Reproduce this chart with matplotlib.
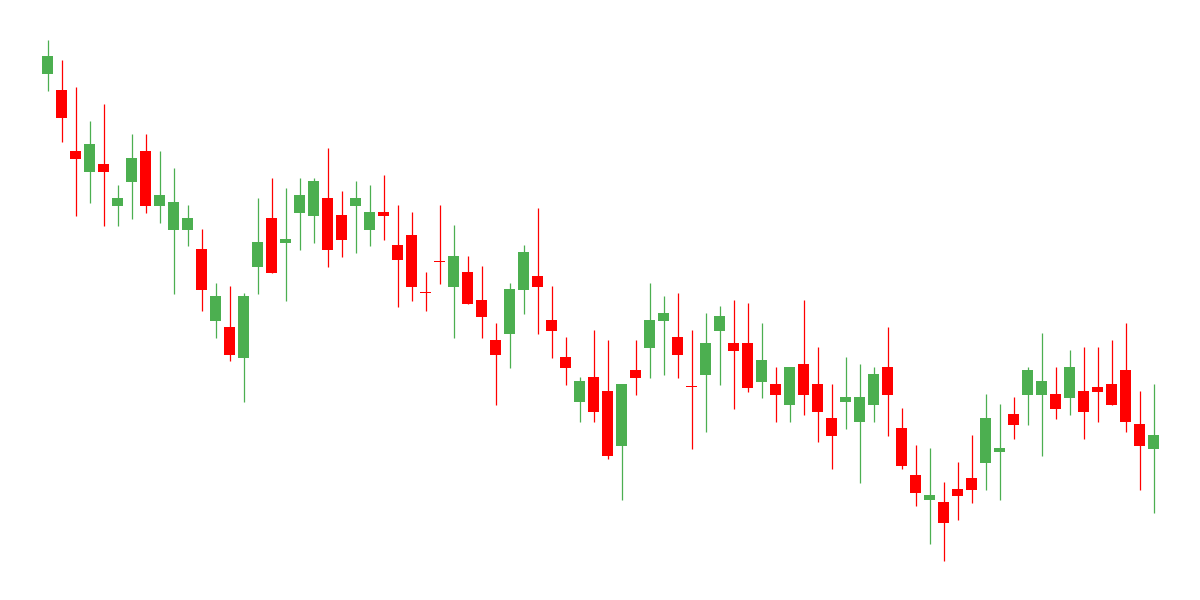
import numpy as np
import matplotlib
matplotlib.use("Agg")
import matplotlib.pyplot as plt

open_ = [526.3, 510, 449, 428.3, 436, 394.3, 418.3, 449, 394.3, 370.3,
         370.3, 351, 279.3, 273, 242.3, 333.3, 382, 357.3, 387.3, 384.3,
         402, 385, 394.3, 370.3, 388, 355, 365, 307, 338, 313.3,
         328, 300, 260, 266.3, 310.3, 324, 280, 243, 198.3, 223,
         209, 154.3, 230, 252.3, 279.3, 263, 213, 225.3, 269.3, 257,
         257, 218.3, 216, 195.3, 236, 216, 182, 198.3, 178.3, 195.3,
         233, 172, 125, 100.3, 98, 111, 122, 137.3, 148.3, 186,
         205.3, 205.3, 206, 202.3, 209, 213, 216, 230, 176, 151.3]
close = [544, 482.3, 441.3, 456, 428.3, 402, 442, 394.3, 405, 398,
         382, 310.3, 304, 245.3, 304, 358, 327.3, 361, 405, 419,
         350.3, 360.3, 402, 388, 384.3, 340.3, 313.3, 306.7, 337.7, 344,
         296.3, 283.3, 245.3, 311, 348, 313.3, 269.3, 232.3, 219, 188.3,
         144.3, 216, 222.3, 280, 287, 245.3, 212.7, 257, 284, 249.3,
         212.3, 240, 205.3, 233, 205.3, 188.3, 164.3, 203, 203, 226,
         205.3, 134.3, 107.3, 105, 77.3, 104.3, 110.3, 182, 152, 175.3,
         230, 219, 191.3, 233, 188.3, 208.3, 195.3, 178.3, 154.3, 165]
high = [560, 540, 513, 479, 496, 415, 466, 466, 449, 432,
        395, 371, 317, 314, 307, 402, 422, 412, 422, 422,
        452, 409, 419, 415, 425, 395, 388, 328, 395, 375,
        344, 334, 277, 317, 355, 392, 314, 263, 223, 270,
        260, 216, 260, 317, 304, 307, 270, 287, 294, 300,
        297, 277, 233, 233, 300, 253, 216, 243, 236, 233,
        273, 192, 155, 152, 118, 138, 165, 206, 196, 203,
        233, 267, 233, 250, 253, 253, 260, 277, 209, 216]
low = [509, 458.3, 384.3, 397.3, 374.3, 374.3, 381.3, 387.3, 377.3, 306.3,
       354.3, 289.3, 262.3, 239.3, 198.3, 306.3, 327.3, 299.3, 350.3, 357.3,
       333.3, 343.3, 347.3, 354.3, 360.3, 293.3, 299.3, 289.3, 316.3, 262.3,
       296.3, 262.3, 195.3, 232.3, 286.3, 266.3, 242.3, 215.3, 178.3, 178.3,
       141.3, 100.3, 205.3, 222.3, 225.3, 222.3, 151.3, 168.3, 215.3, 191.3,
       208.3, 202.3, 178.3, 178.3, 185.3, 158.3, 131.3, 171.3, 117.3, 178.3,
       164.3, 131.3, 94.3, 56.3, 39.3, 80.3, 97.3, 110.3, 100.3, 161.3,
       175.3, 144.3, 181.3, 185.3, 161.3, 178.3, 195.3, 168.3, 110.3, 87.3]

UP = "#4CAF50"
DOWN = "#FF0000"

o = np.array(open_, dtype=float)
c = np.array(close, dtype=float)
h = np.array(high, dtype=float)
l = np.array(low, dtype=float)
x = np.arange(len(o))
colors = [UP if cc > oo else DOWN for oo, cc in zip(o, c)]

fig = plt.figure(figsize=(12, 6), dpi=100)
ax = fig.add_axes([0, 0, 1, 1])
ax.vlines(x, l, h, colors=colors, linewidth=0.9, zorder=1)
bottoms = np.minimum(o, c)
heights = np.maximum(np.abs(c - o), 1.0)
ax.bar(x, heights, bottom=bottoms, width=0.79, color=colors, linewidth=0, zorder=2)

ax.set_xlim(-47.5 / 14, (1200 - 47.5) / 14)
ax.set_ylim(0, 600)
ax.axis("off")
fig.savefig("out.png", dpi=100, facecolor="white")
